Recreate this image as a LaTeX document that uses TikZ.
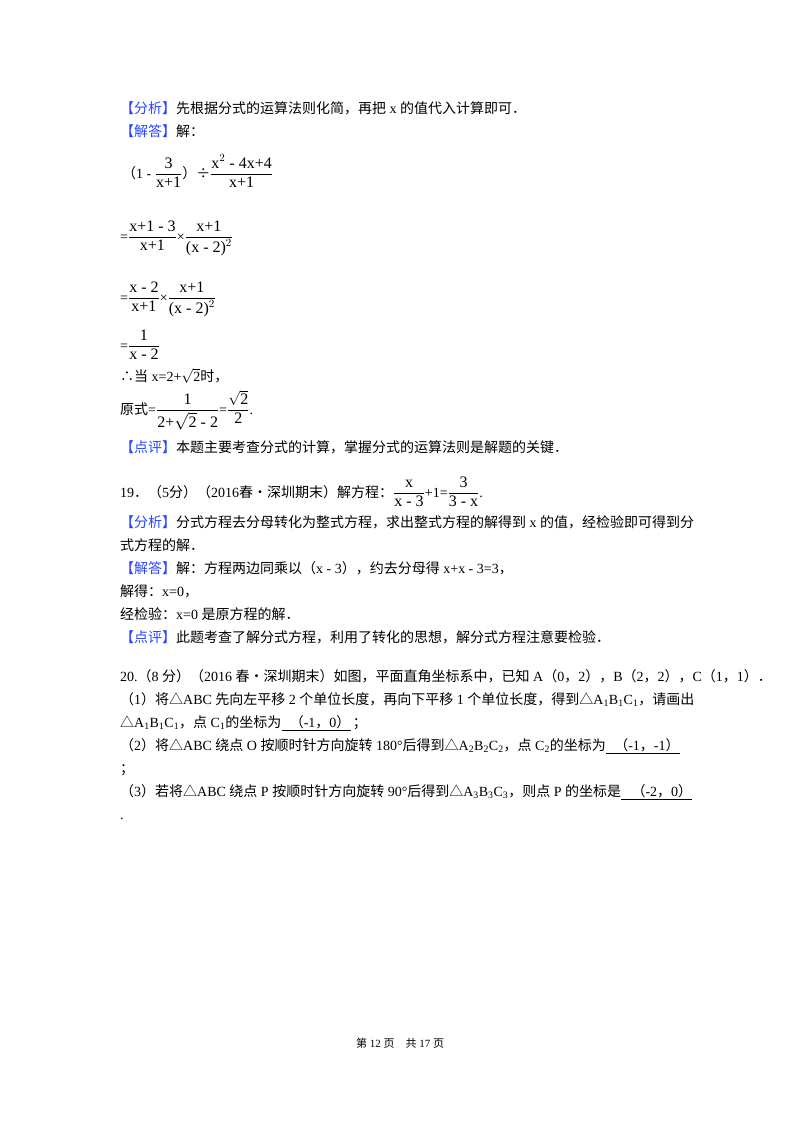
\documentclass[tikz,border=0pt]{standalone}
\usepackage{fontspec}
\usepackage{amsmath}
\setmainfont{Noto Sans CJK SC}
\newfontfamily\tmf{Liberation Serif}
\newcommand\tm[1]{{\tmf #1}}
\definecolor{kblue}{RGB}{40,70,255}
\newcommand\kw[1]{{\color{kblue}【#1】}}
\newcommand\fr[2]{$\dfrac{\mbox{\fontsize{16}{18}\selectfont\tm{#1}}}{\mbox{\fontsize{16}{18}\selectfont\tm{#2}}}$}
\begin{document}
\begin{tikzpicture}[x=1pt,y=-1pt,
  ln/.style={anchor=base west,inner sep=0,font=\fontsize{14}{16}\selectfont}]
\useasboundingbox[fill=white] (0,0) rectangle (800,1132);
\node[ln] (a1) at (120,113) {\kw{分析}先根据分式的运算法则化简，再把\tm{ x }的值代入计算即可．};
\node[ln] (a2) at (120,136) {\kw{解答}解：};
\node[ln] (e1) at (122,178) {（\tm{1 - }\fr{3}{x+1}）÷\fr{x$^2$ - 4x+4}{x+1}};
\node[ln] (e2) at (120,241) {\tm{=}\fr{x+1 - 3}{x+1}\tm{×}\fr{x+1}{(x - 2)$^2$}};
\node[ln] (e3) at (120,302) {\tm{=}\fr{x - 2}{x+1}\tm{×}\fr{x+1}{(x - 2)$^2$}};
\node[ln] (e4) at (120,350) {\tm{=}\fr{1}{x - 2}};
\node[ln] (a3) at (120,381) {∴当\tm{ x=2+$\sqrt{\mbox{2}}$}时，};
\node[ln] (a4) at (120,414) {原式\tm{=}\fr{1}{2+$\sqrt{\mbox{2}}$ - 2}\tm{=}$\dfrac{\sqrt{\mbox{\fontsize{16}{18}\selectfont\tm{2}}}}{\mbox{\fontsize{16}{18}\selectfont\tm{2}}}$\tm{.}};
\node[ln] (a5) at (120,452) {\kw{点评}本题主要考查分式的计算，掌握分式的运算法则是解题的关键．};
\node[ln] (b0) at (120,497) {\tm{19}．（\tm{5}分）（\tm{2016}春•深圳期末）解方程：\fr{x}{x - 3}\tm{+1=}\fr{3}{3 - x}\tm{.}};
\node[ln] (b1) at (120,527) {\kw{分析}分式方程去分母转化为整式方程，求出整式方程的解得到\tm{ x }的值，经检验即可得到分};
\node[ln] (b2) at (120,550) {式方程的解．};
\node[ln] (b3) at (120,573) {\kw{解答}解：方程两边同乘以（\tm{x - 3}），约去分母得\tm{ x+x - 3=3}，};
\node[ln] (b4) at (120,596) {解得：\tm{x=0}，};
\node[ln] (b5) at (120,619) {经检验：\tm{x=0 }是原方程的解．};
\node[ln] (b6) at (120,642) {\kw{点评}此题考查了解分式方程，利用了转化的思想，解分式方程注意要检验．};
\node[ln] (c0) at (120,681) {\tm{20.}（\tm{8 }分）（\tm{2016 }春•深圳期末）如图，平面直角坐标系中，已知\tm{ A}（\tm{0}，\tm{2}），\tm{B}（\tm{2}，\tm{2}），\tm{C}（\tm{1}，\tm{1}）．};
\node[ln] (c1) at (120,704) {（\tm{1}）将△\tm{ABC }先向左平移\tm{ 2 }个单位长度，再向下平移\tm{ 1 }个单位长度，得到△\tm{A\textsubscript{1}B\textsubscript{1}C\textsubscript{1}}，请画出};
\node[ln] (c2) at (120,727) {△\tm{A\textsubscript{1}B\textsubscript{1}C\textsubscript{1}}，点\tm{ C\textsubscript{1}}的坐标为};
\node[ln] (u1) at (c2.base east) {\hspace{8pt}（\tm{-1}，\tm{0}）\hspace{16pt}};
\node[ln] (c2b) at (u1.base east) {\hspace{2pt}；};
\node[ln] (c3) at (120,750) {（\tm{2}）将△\tm{ABC }绕点\tm{ O }按顺时针方向旋转\tm{ 180°}后得到△\tm{A\textsubscript{2}B\textsubscript{2}C\textsubscript{2}}，点\tm{ C\textsubscript{2}}的坐标为};
\node[ln] (u2) at (c3.base east) {\hspace{8pt}（\tm{-1}，\tm{-1}）};
\node[ln] (c4) at (120,773) {；};
\node[ln] (c5) at (120,796) {（\tm{3}）若将△\tm{ABC }绕点\tm{ P }按顺时针方向旋转\tm{ 90°}后得到△\tm{A\textsubscript{3}B\textsubscript{3}C\textsubscript{3}}，则点\tm{ P }的坐标是};
\node[ln] (u3) at (c5.base east) {\hspace{10pt}（\tm{-2}，\tm{0}）};
\node[ln] (c6) at (120,819) {\tm{.}};
\foreach \u in {u1,u2,u3}
  \draw[line width=0.8pt] ([yshift=-3pt]\u.base west) -- ([yshift=-3pt]\u.base east);
\node[anchor=base,inner sep=0,font=\fontsize{11}{13}\selectfont] (ft) at (400,1047) {第\tm{ 12 }页\quad 共\tm{ 17 }页};
\end{tikzpicture}
\end{document}
